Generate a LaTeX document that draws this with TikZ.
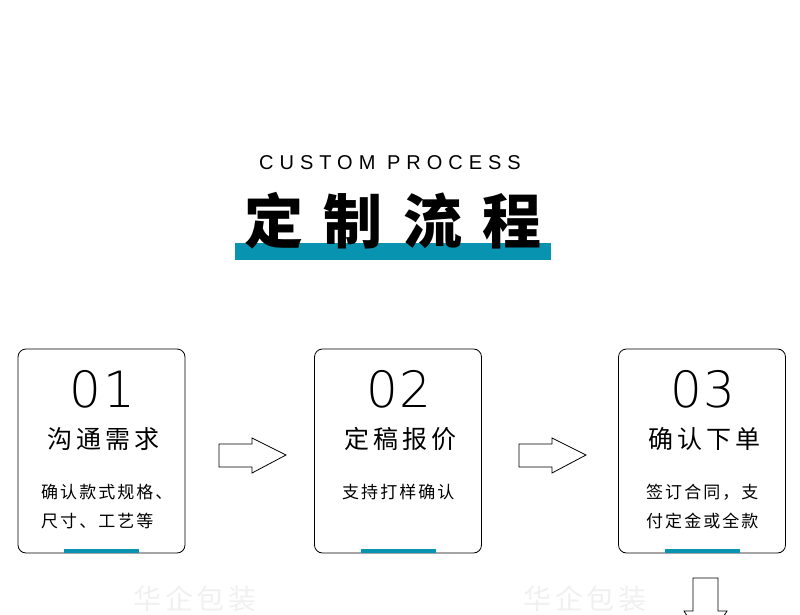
\documentclass[tikz,border=0pt]{standalone}
\usepackage{fontspec}
\setmainfont{Liberation Sans}
\newfontfamily\cjk{Noto Sans CJK SC}
\newfontfamily\cjkhead[LetterSpace=34]{Noto Sans CJK SC}
\newfontfamily\cjkname[LetterSpace=16]{Noto Sans CJK SC}
\newfontfamily\cjkline[LetterSpace=12]{Noto Sans CJK SC}
\newfontfamily\numfont[UprightFont=* ExtraLight,LetterSpace=4]{DejaVu Sans}
\newfontfamily\capsfont[LetterSpace=30]{Liberation Sans}
\definecolor{procteal}{RGB}{8,147,176}
\definecolor{markgray}{RGB}{240,240,240}
\newcommand{\fs}[1]{\fontsize{#1}{#1}\selectfont}

\begin{document}
\begin{tikzpicture}[x=1pt,y=-1pt]
\tikzset{
 card/.style={draw, line width=0.8pt, rounded corners=8pt, minimum width=167pt, minimum height=204pt, inner sep=0pt},
 hollow/.style={draw, line width=0.8pt, fill=white},
 txt/.style={inner sep=0pt, anchor=center},
 desc/.style={inner sep=0pt, anchor=west}
}
\useasboundingbox (0,0) rectangle (800,615);
\clip (0,0) rectangle (800,615);

% heading
\node[txt] (sub) at (390,163) {\capsfont\fs{20}CUSTOM PROCESS};
\fill[procteal] (235,243) rectangle (551,260);
\node[txt] (head) at (393,221) {\cjkhead\bfseries\fs{59}定制流程};

% cards
\foreach \i/\cx/\lx/\num/\name/\lineA/\lineB in {1/101.5/41/01/沟通需求/确认款式规格、/尺寸、工艺等, 2/398/342/02/定稿报价/支持打样确认/, 3/702/646/03/确认下单/{签订合同，支}/付定金或全款} {
 \node[card] (card\i) at (\cx,451) {};
 \fill[procteal] ([xshift=-37.5pt]card\i.south) rectangle ([xshift=37.5pt,yshift=4pt]card\i.south);
 \node[txt] (num\i) at (\cx+1,389) {\numfont\fs{50}\num};
 \node[txt] (name\i) at (\cx+2,439) {\cjkname\fs{25}\name};
 \node[desc] (la\i) at (\lx,492) {\cjkline\fs{17}\lineA};
 \node[desc] (lb\i) at (\lx,521) {\cjkline\fs{17}\lineB};
 }

% arrows between cards
\foreach \dx in {0,300} {
 \draw[hollow] (219+\dx,444) -- (252+\dx,444) -- (252+\dx,438) -- (286+\dx,455) -- (252+\dx,473) -- (252+\dx,467) -- (219+\dx,467) -- cycle;
 }
\draw[hollow] (693,578) -- (718,578) -- (718,611) -- (727,611) -- (705.5,645) -- (684,611) -- (693,611) -- cycle;

% watermark
\foreach \wx/\j in {195/1,585/2} {
 \node[txt, text=markgray] (mark\j) at (\wx,599) {\cjkline\fs{28}华企包装};
 }
\end{tikzpicture}
\end{document}
